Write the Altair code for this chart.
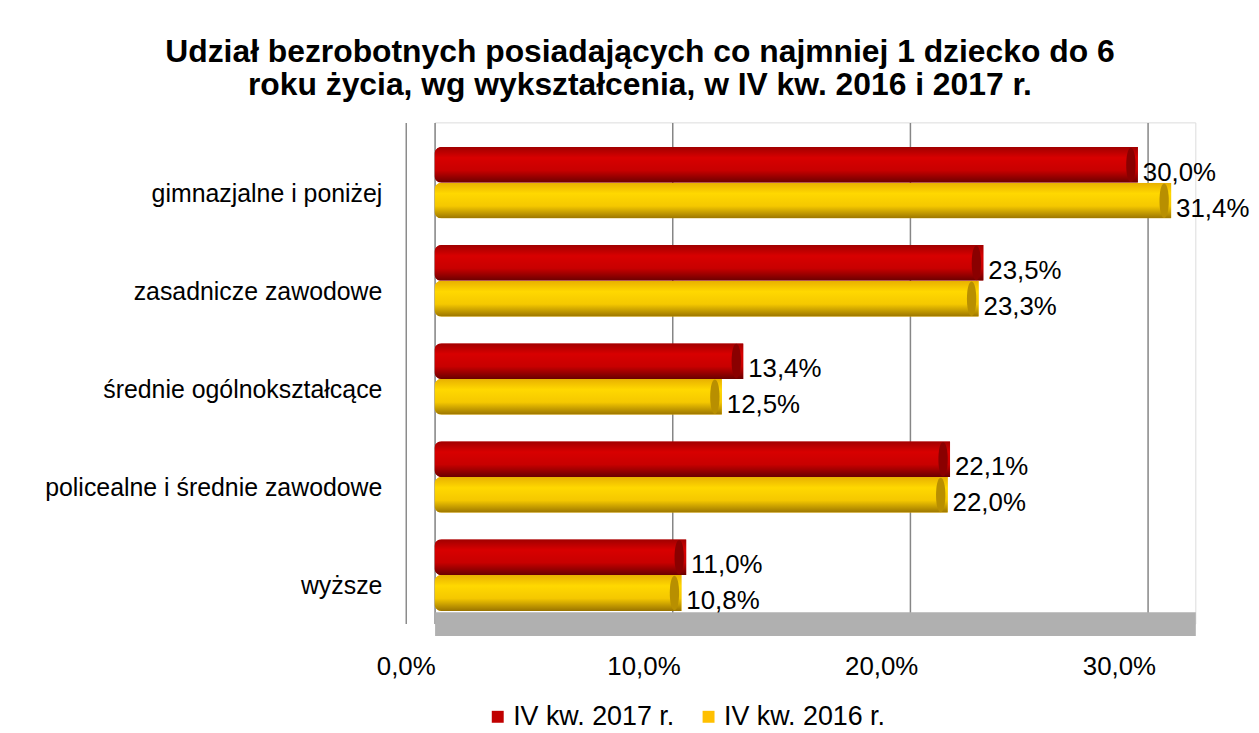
import altair as alt
import pandas as pd

categories = ["gimnazjalne i poniżej", "zasadnicze zawodowe", "średnie ogólnokształcące",
              "policealne i średnie zawodowe", "wyższe"]
series = ["IV kw. 2017 r.", "IV kw. 2016 r."]
v2017 = [30.0, 23.5, 13.4, 22.1, 11.0]
v2016 = [31.4, 23.3, 12.5, 22.0, 10.8]
x_ticks = [0, 10, 20, 30]

flat_colors = ["#c00000", "#ffc000"]
cap_colors = ["#8a0000", "#b88f00"]

rows = []
for c, a, b in zip(categories, v2017, v2016):
    rows.append({"cat": c, "series": series[0], "value": a,
                 "label": f"{a:.1f}".replace(".", ",") + "%"})
    rows.append({"cat": c, "series": series[1], "value": b,
                 "label": f"{b:.1f}".replace(".", ",") + "%"})
df = pd.DataFrame(rows)

FONT = "Liberation Sans"

red_grad = alt.Gradient(gradient="linear", x1=0, x2=0, y1=0, y2=1, stops=[
    alt.GradientStop(color="#a00000", offset=0),
    alt.GradientStop(color="#d80000", offset=0.3),
    alt.GradientStop(color="#c80000", offset=0.65),
    alt.GradientStop(color="#6a0000", offset=1)])
yel_grad = alt.Gradient(gradient="linear", x1=0, x2=0, y1=0, y2=1, stops=[
    alt.GradientStop(color="#e8b000", offset=0),
    alt.GradientStop(color="#ffd800", offset=0.3),
    alt.GradientStop(color="#f5c800", offset=0.65),
    alt.GradientStop(color="#9a7400", offset=1)])

x_enc = alt.X("value:Q",
              scale=alt.Scale(domain=[0, 32], nice=False, zero=True),
              axis=alt.Axis(values=x_ticks, title=None, grid=True, gridColor="#868686",
                            gridWidth=1.5, ticks=False, domain=True, domainColor="#b0b0b0",
                            domainWidth=24, labelFontSize=26, labelFont=FONT,
                            labelColor="#000000", labelPadding=30, labelOffset=-29,
                            labelFlush=False,
                            labelExpr="replace(format(datum.value, '.1f'), '.', ',') + '%'"))
y_enc = alt.Y("cat:N", sort=categories,
              scale=alt.Scale(paddingInner=0.27, paddingOuter=0.19, align=0.66),
              axis=alt.Axis(title=None, ticks=False, domain=True, domainColor="#8c8c8c",
                            domainWidth=1.5, offset=29, labelFontSize=25, labelFont=FONT,
                            labelColor="#000000", labelPadding=24, labelOffset=11,
                            labelLimit=500))
yoff = alt.YOffset("series:N", sort=series, scale=alt.Scale(domain=series, paddingInner=0))

base = alt.Chart(df)

flat = base.mark_bar(cornerRadius=7, xOffset=-10).encode(
    x=x_enc, y=y_enc, yOffset=yoff,
    color=alt.Color("series:N", sort=series,
                    scale=alt.Scale(domain=series, range=flat_colors),
                    legend=alt.Legend(title=None, orient="none", legendX=50, legendY=584,
                                      direction="horizontal", symbolType="square",
                                      symbolSize=144, symbolStrokeWidth=0,
                                      labelFontSize=27, labelFont=FONT, labelColor="#000000",
                                      columnPadding=20, labelOffset=2, padding=0,
                                      labelLimit=400))
)

grad_layers = []
for s, g, cc in zip(series, [red_grad, yel_grad], cap_colors):
    sub = base.transform_filter(alt.datum.series == s)
    grad_layers.append(sub.mark_bar(cornerRadius=7, xOffset=-10, color=g).encode(
        x="value:Q", y=alt.Y("cat:N", sort=categories), yOffset=alt.YOffset("series:N", sort=series)))
    grad_layers.append(sub.mark_point(
        shape="M0,-1 C0.36,-1 0.36,1 0,1 C-0.36,1 -0.36,-1 0,-1 Z",
        size=1200, filled=True, opacity=1, color=cc, xOffset=-17).encode(
        x="value:Q", y=alt.Y("cat:N", sort=categories), yOffset=alt.YOffset("series:N", sort=series)))

labels = base.mark_text(align="left", baseline="middle", dx=-5, dy=8, fontSize=26,
                        font=FONT, color="#000000").encode(
    x="value:Q", y=alt.Y("cat:N", sort=categories), yOffset=alt.YOffset("series:N", sort=series),
    text="label:N")

chart = alt.layer(flat, *grad_layers, labels).properties(
    width=765, height=504,
    title=alt.TitleParams(
        ["Udział bezrobotnych posiadających co najmniej 1 dziecko do 6",
         "roku życia, wg wykształcenia, w IV kw. 2016 i 2017 r."],
        font=FONT, fontSize=32, fontWeight="bold", color="#000000",
        anchor="middle", frame="group", dx=-176, offset=21, lineHeight=33),
    autosize=alt.AutoSizeParams(type="none"),
    padding={"left": 429, "top": 113, "right": 56, "bottom": 105},
).configure_view(fill="#e5e5e5", stroke=None).configure(background="#ffffff")

chart.save("out.html", embed_options={"renderer": "svg", "actions": False})
